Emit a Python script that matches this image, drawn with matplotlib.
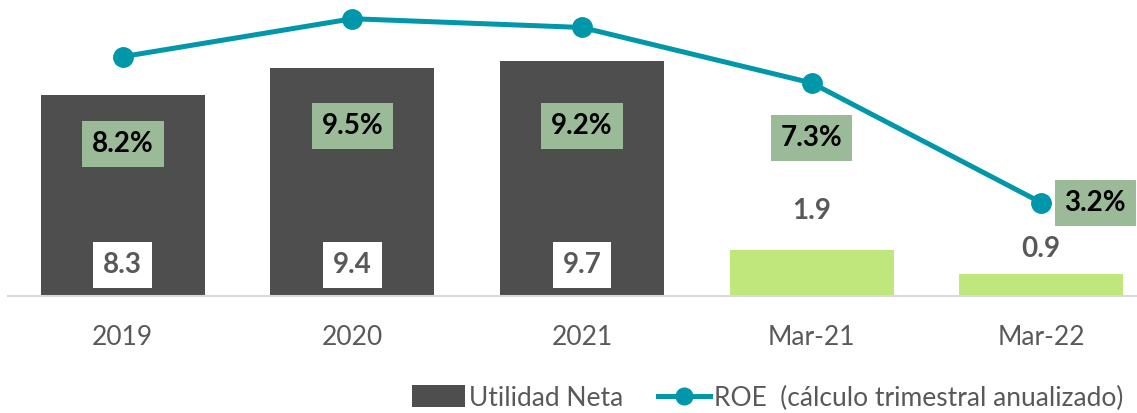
import matplotlib
matplotlib.use("Agg")
import matplotlib.pyplot as plt
from matplotlib.lines import Line2D
from matplotlib.patches import Patch

categories = ["2019", "2020", "2021", "Mar-21", "Mar-22"]
utilidad = [8.3, 9.4, 9.7, 1.9, 0.9]
roe = [8.2, 9.5, 9.2, 7.3, 3.2]
utilidad_labels = ["8.3", "9.4", "9.7", "1.9", "0.9"]
roe_labels = ["8.2%", "9.5%", "9.2%", "7.3%", "3.2%"]

bar_colors = ["#4D4E4D", "#4D4E4D", "#4D4E4D", "#BFE77C", "#BFE77C"]
line_color = "#0097AA"
box_color = "#9BBB98"
text_gray = "#595959"
FONT = "Lato"

fig = plt.figure(figsize=(11.37, 4.13), dpi=100)
ax = fig.add_axes([8 / 1137, (413 - 296) / 413, (1156 - 8) / 1137, 291 / 413])
ax2 = ax.twinx()

x = list(range(len(categories)))
ax.bar(x, utilidad, width=0.715, color=bar_colors, zorder=2)
ax.set_xlim(-0.5, 4.5)
ax.set_ylim(0, 12.0)
ax2.set_ylim(0, 9.97)

ax2.plot(x, roe, color=line_color, lw=3.6, marker="o", ms=14, zorder=3)

for a in (ax, ax2):
    for s in ["top", "right", "left"]:
        a.spines[s].set_visible(False)
    a.set_yticks([])
ax.spines["bottom"].set_color("#D9D9D9")
ax.spines["bottom"].set_linewidth(1.5)
ax2.spines["bottom"].set_visible(False)

ax.set_xticks(x)
ax.set_xticklabels(categories, fontsize=19, color=text_gray, fontname=FONT)
ax.tick_params(axis="x", length=0, pad=21)

# bar value labels: inside boxed or above bar (offset in points)
inside = [True, True, True, False, False]
above_off = [0, 0, 0, 28, 18]
for i, (v, lab) in enumerate(zip(utilidad, utilidad_labels)):
    if inside[i]:
        ax.annotate(lab, (i, 0), xytext=(0, 22), textcoords="offset points",
                    ha="center", va="center", fontsize=20, fontweight="bold",
                    color=text_gray, fontname=FONT, zorder=5,
                    bbox=dict(boxstyle="square,pad=0.36", fc="white", ec="none"))
    else:
        ax.annotate(lab, (i, v), xytext=(0, above_off[i]), textcoords="offset points",
                    ha="center", va="center", fontsize=20, fontweight="bold",
                    color=text_gray, fontname=FONT, zorder=5)

# ROE labels offsets in points
roe_off = [(0, -63), (0, -77), (0, -71), (0, -40), (39, 0)]
for i, (v, lab) in enumerate(zip(roe, roe_labels)):
    ax2.annotate(lab, (i, v), xytext=roe_off[i], textcoords="offset points",
                 ha="center", va="center", fontsize=20, fontweight="bold",
                 color="black", fontname=FONT, zorder=6,
                 bbox=dict(boxstyle="square,pad=0.36", fc=box_color, ec="none"))

handles = [Patch(facecolor="#4D4E4D", edgecolor="none"),
           Line2D([0], [0], color=line_color, lw=3.6, marker="o", ms=12)]
leg = fig.legend(handles, ["Utilidad Neta", "ROE  (cálculo trimestral anualizado)"],
                 loc="center", bbox_to_anchor=(768 / 1137, 1 - 398 / 413), ncol=2,
                 frameon=False, prop={"family": FONT, "size": 19},
                 handlelength=2.0, handleheight=0.9, handletextpad=0.15,
                 columnspacing=1.3)
for t in leg.get_texts():
    t.set_color(text_gray)

fig.savefig("out.png", dpi=100)
